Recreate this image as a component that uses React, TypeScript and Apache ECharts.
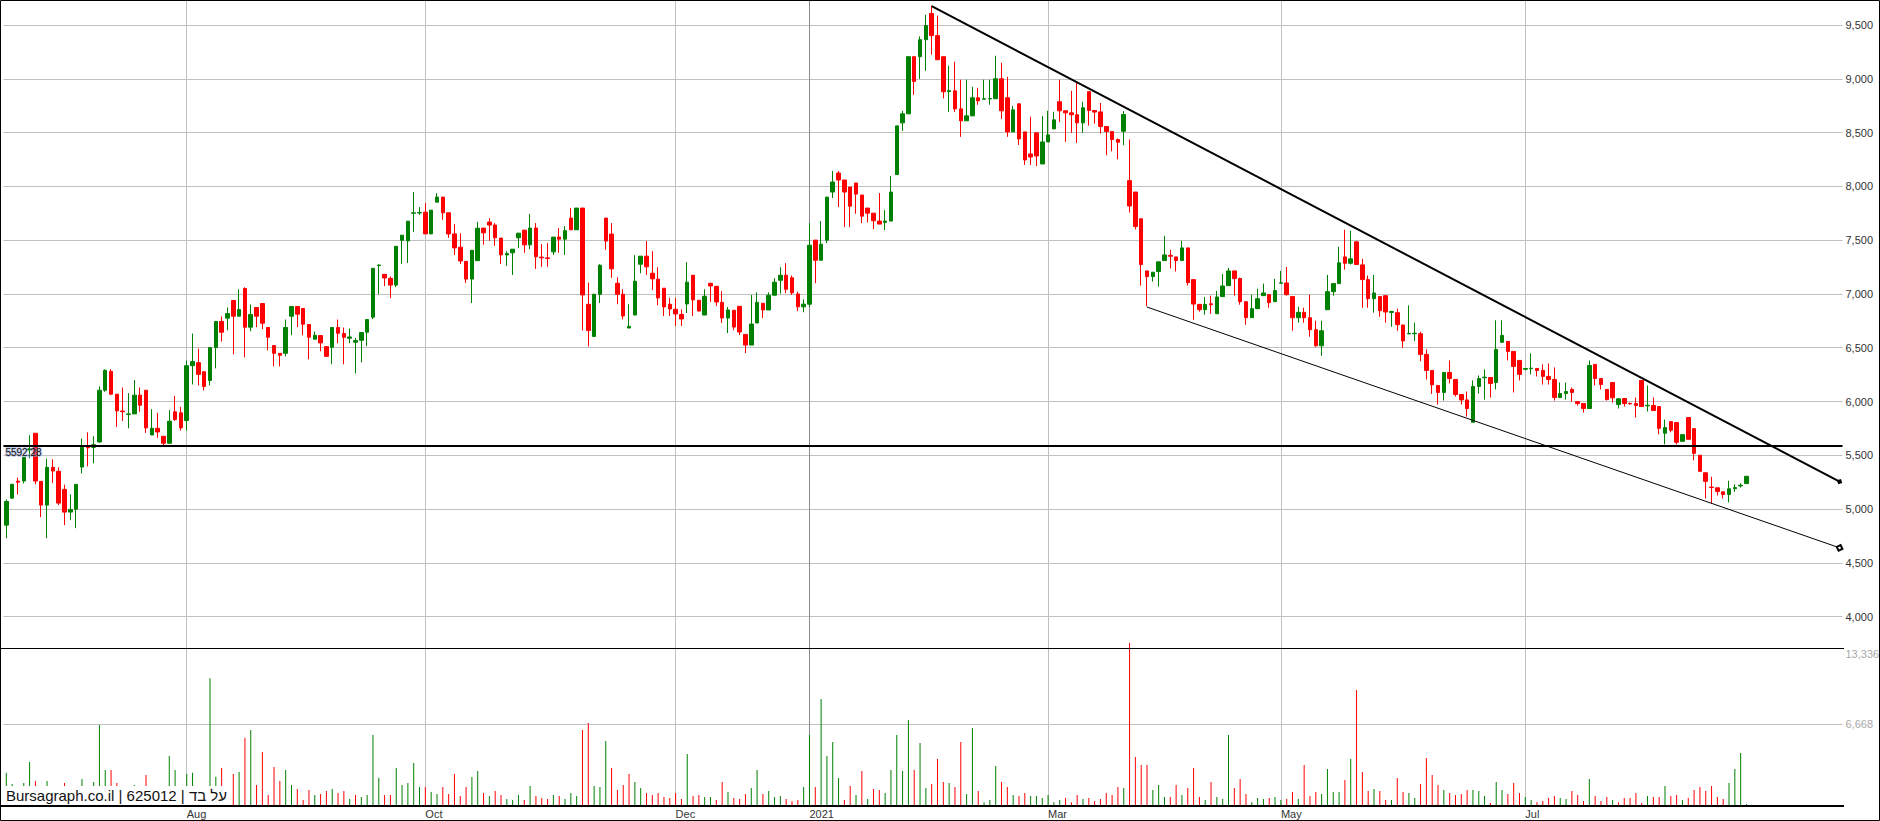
import { useEffect, useRef } from 'react';
import * as echarts from 'echarts';

// ---- price data (one entry per trading day, left to right) ----
const OPEN = [
  4851,5102,5260,5261,5550,5705,5258,5037,5388,5351,
  5183,4972,4999,5391,5578,5574,5624,6105,6280,6068,
  5912,5880,5885,6059,6105,5689,5751,5677,5612,5904,
  5895,5823,6333,6361,6277,6196,6501,6744,6775,6939,
  6793,7051,6691,6874,6911,6688,6520,6448,6448,6793,
  6883,6865,6716,6579,6613,6510,6504,6688,6632,6588,
  6551,6569,6644,6784,7262,7182,7145,7082,7499,7493,
  7750,7752,7760,7558,7853,7900,7754,7558,7434,7303,
  7138,7309,7612,7668,7640,7519,7363,7382,7522,7593,
  7456,7612,7342,7335,7391,7528,7509,7705,7596,7798,
  6904,6605,6997,7705,7556,7099,6997,6683,6804,7276,
  7351,7192,7137,7053,6904,6857,6810,6907,7174,6941,
  6804,7099,7071,6922,6776,6848,6885,6624,6525,6730,
  6913,6851,6988,7127,7174,7150,7000,6880,6905,7500,
  7313,7500,7947,8124,8059,7994,8031,7919,7798,7751,
  7677,7665,7677,8109,8590,8674,9205,9205,9363,9606,
  9401,9205,8880,8888,8720,8609,8655,8823,8810,8812,
  8814,9000,8823,8506,8767,8506,8301,8497,8208,8413,
  8534,8786,8702,8683,8665,8590,8880,8705,8692,8556,
  8509,8435,8512,8053,7947,7699,7214,7161,7208,7310,
  7358,7344,7310,7428,7133,6903,6854,6908,6816,6975,
  7077,7214,7143,6928,6779,6863,6984,6993,6928,7100,
  7102,6975,6779,6829,6779,6667,6518,6853,7021,7096,
  7344,7285,7484,7270,7133,6956,6975,6984,6828,6826,
  6711,6628,6630,6630,6438,6289,6149,6084,6270,6205,
  6065,6015,5807,6140,6221,6223,6177,6550,6559,6466,
  6382,6300,6305,6307,6289,6233,6205,6037,6074,6112,
  5999,5981,5935,6345,6214,6112,6177,5972,6028,5983,
  5981,6196,5960,5963,5953,5705,5813,5804,5630,5851,
  5748,5500,5338,5205,5198,5161,5136,5190,5215,5237,
];
const CLOSE = [
  5071,5230,5250,5481,5560,5261,5037,5388,5354,5056,
  4972,4997,5230,5574,5570,5599,6105,6290,6068,5913,
  5905,5885,6059,5966,5755,5751,5717,5612,5817,5833,
  5755,6333,6371,6252,6140,6501,6744,6644,6818,6793,
  6855,6691,6809,6793,6728,6597,6448,6430,6688,6883,
  6812,6719,6597,6616,6545,6420,6688,6635,6597,6600,
  6567,6641,6762,7238,7269,7148,7082,7443,7546,7676,
  7754,7757,7558,7779,7900,7754,7558,7428,7306,7138,
  7406,7611,7568,7640,7522,7363,7375,7416,7565,7456,
  7612,7345,7335,7330,7528,7509,7588,7596,7798,6991,
  6661,6997,7267,7491,7233,6997,6795,6699,7118,7351,
  7252,7140,6963,6879,6860,6814,6767,7109,6944,6841,
  6978,7074,6925,6776,6851,6692,6646,6525,6720,6922,
  6851,6988,7109,7174,7043,7010,6880,6905,7453,7313,
  7462,7900,8040,8059,7947,7816,7928,7723,7751,7680,
  7649,7677,7947,8562,8674,9205,8975,9363,9494,9401,
  9177,8879,8889,8720,8609,8655,8823,8795,8814,8817,
  9000,8702,8506,8711,8441,8245,8273,8282,8413,8478,
  8618,8702,8683,8665,8590,8730,8705,8690,8556,8509,
  8435,8410,8668,7817,7627,7273,7161,7202,7298,7363,
  7350,7310,7428,7105,6906,6854,6903,6900,6972,7074,
  7214,7143,6928,6779,6863,6956,7009,6919,7031,7103,
  6993,6779,6829,6779,6667,6518,6658,7021,7096,7289,
  7285,7326,7273,7133,6956,7009,6844,6832,6836,6714,
  6563,6633,6635,6438,6289,6155,6084,6270,6214,6065,
  6015,5935,6140,6214,6226,6168,6484,6615,6466,6326,
  6252,6307,6310,6289,6233,6205,6037,6074,6093,6084,
  5981,5935,6335,6214,6158,6018,6035,6025,5981,5978,
  5963,5953,5965,5916,5751,5758,5733,5621,5692,5649,
  5518,5351,5258,5200,5164,5136,5189,5200,5222,5305,
];
const LOW = [
  4730,5095,5136,5239,5472,5230,4925,4730,5242,5037,
  4851,4897,4823,5332,5397,5425,5618,6090,6060,5764,
  5820,5751,5885,5904,5708,5689,5661,5577,5612,5820,
  5730,5730,6159,6150,6103,6150,6308,6557,6663,6439,
  6793,6411,6653,6691,6672,6476,6327,6327,6420,6616,
  6691,6616,6392,6579,6467,6420,6346,6541,6346,6541,
  6262,6364,6514,6765,6999,7073,6961,7064,7278,7288,
  7577,7735,7558,7558,7853,7689,7521,7362,7278,7101,
  6915,7309,7457,7494,7447,7279,7261,7177,7426,7382,
  7416,7233,7252,7252,7363,7382,7363,7596,7596,6661,
  6512,6605,6916,7410,7149,6904,6764,6683,6804,7192,
  7177,7037,6894,6795,6795,6702,6702,6823,6795,6841,
  6804,6925,6888,6730,6636,6664,6618,6450,6525,6730,
  6776,6851,6988,7003,7006,6990,6840,6830,6880,7100,
  7313,7472,7891,7807,7621,7621,7745,7658,7664,7602,
  7649,7593,7677,8109,8515,8674,8851,8999,9074,9224,
  9177,8817,8692,8692,8460,8609,8655,8758,8810,8758,
  8814,8627,8460,8506,8385,8199,8199,8189,8208,8413,
  8534,8599,8413,8497,8404,8497,8565,8582,8491,8289,
  8326,8251,8382,7757,7599,7077,6885,7114,7068,7310,
  7236,7208,7310,7077,6760,6835,6807,6816,6816,6975,
  7077,6984,6900,6714,6779,6863,6984,6872,6928,7095,
  6984,6658,6733,6733,6602,6509,6425,6853,6984,7096,
  7226,7273,7273,6872,6872,6826,6788,6733,6695,6658,
  6500,6628,6562,6373,6205,6071,5972,6009,6168,6046,
  5972,5860,5807,6074,6018,6037,6112,6550,6382,6084,
  6196,6290,6252,6233,6158,6158,6009,6037,6018,5999,
  5962,5897,5935,6149,6112,6009,5990,5935,5953,5972,
  5851,5953,5907,5916,5696,5602,5714,5602,5630,5649,
  5453,5351,5099,5052,5127,5099,5062,5160,5200,5237,
];
const HIGH = [
  5090,5235,5292,5481,5686,5705,5258,5469,5463,5388,
  5227,5136,5230,5655,5714,5677,6140,6300,6300,6068,
  6130,6078,6199,6130,6105,5928,5894,5677,5919,6053,
  5951,6380,6632,6492,6277,6501,6744,6790,6874,6939,
  7042,7061,6902,6874,6911,6688,6520,6448,6762,6883,
  6883,6865,6716,6650,6613,6510,6688,6762,6688,6678,
  6591,6641,6762,7238,7272,7182,7163,7443,7546,7676,
  7947,7807,7844,7779,7937,7900,7754,7648,7564,7303,
  7406,7670,7612,7705,7658,7519,7397,7416,7565,7593,
  7742,7658,7463,7472,7528,7612,7630,7798,7798,7798,
  7106,6997,7276,7705,7658,7155,7043,6904,7360,7351,
  7491,7397,7248,7053,6963,6963,6857,7295,7174,6941,
  7043,7099,7071,7025,6879,6848,6885,6624,6990,7015,
  6913,7015,7146,7248,7286,7170,7020,6950,7658,7500,
  7677,7900,8143,8143,8059,7994,8031,7919,7798,7751,
  7938,7779,8096,8562,8702,9205,9205,9394,9596,9680,
  9587,9205,9121,9158,8991,8991,8925,8916,8991,8991,
  9214,9149,9018,8748,8767,8506,8646,8497,8655,8702,
  8693,8991,8702,8888,8972,8786,8880,8705,8776,8556,
  8509,8444,8699,8435,7947,7699,7214,7202,7298,7540,
  7410,7344,7493,7428,7133,6903,6972,6984,7028,7186,
  7242,7214,7152,6928,6993,7049,7096,6993,7140,7214,
  7251,6975,6881,6872,6993,6751,6751,7177,7096,7438,
  7596,7587,7493,7326,7171,7177,6975,6984,6844,6863,
  6711,6894,6733,6649,6484,6289,6149,6270,6382,6205,
  6065,6093,6196,6242,6298,6223,6755,6755,6559,6466,
  6382,6310,6447,6307,6345,6354,6317,6177,6177,6130,
  5999,5981,6382,6345,6214,6112,6177,6028,6028,5990,
  6037,6196,6149,6037,5953,5832,5813,5804,5692,5851,
  5748,5500,5338,5301,5198,5161,5264,5230,5240,5305,
];
const VOLUME = [
  2704,1776,600,1858,3578,2022,700,2022,500,500,
  1858,600,800,2186,800,1940,6610,2923,2923,1858,
  600,1612,1694,700,2514,500,600,600,4070,2923,
  900,2595,2705,1000,1000,10433,2377,3087,1200,2595,
  2759,5572,6200,1694,4398,874,3169,2022,2923,1694,
  1366,465,1284,874,956,1202,1366,1038,1202,547,
  874,711,874,5790,2295,874,874,3087,1694,1858,
  3497,1530,1530,1120,956,1530,956,2595,793,1530,
  2350,2841,1038,793,1202,874,547,465,874,465,
  1612,793,629,547,874,793,547,1038,793,6200,
  6774,1612,1530,5299,3087,1284,1694,2595,1940,1448,
  1038,874,1038,711,629,1038,547,4234,793,874,
  711,711,465,1940,1120,629,547,956,1448,2923,
  956,1202,711,793,547,383,465,1530,5790,1530,
  8740,4070,5217,2267,465,1612,874,2841,547,1366,
  1284,1038,2923,5790,2841,7020,2923,5135,1448,1776,
  3824,1940,1858,1530,5217,956,6364,1202,274,465,
  3251,1940,1530,874,793,1038,793,793,629,874,
  274,465,629,274,874,547,629,383,547,1038,
  874,1530,1448,13336,3988,3333,3333,1284,1694,711,
  711,1694,874,1448,3087,711,465,1940,711,547,
  5790,1448,2186,956,274,629,547,629,711,465,
  547,1120,547,3333,793,1120,956,3005,1120,1120,
  2104,3824,9477,2759,1202,1366,1202,465,465,2267,
  1120,1038,629,1776,3906,2514,1694,1284,1038,874,
  956,1284,1284,1202,793,219,1940,1284,956,1858,
  1038,711,465,274,383,629,793,629,547,1202,
  874,383,2186,793,383,711,465,274,629,629,
  1038,219,793,711,711,1612,793,874,465,629,
  1284,1530,1202,1612,711,547,1858,3005,4316,137,
];

// ---- axis / annotation data ----
const SLOT_COUNT = 316; // trading-day slots on the time axis (incl. empty future space)
const MONTH_INDEX = [31, 72, 115, 138, 179, 219, 261];
const MONTH_LABEL = ['Aug', 'Oct', 'Dec', '2021', 'Mar', 'May', 'Jul'];
const RESISTANCE_FROM = [159, 9675];
const RESISTANCE_TO = [315, 5255];
const SUPPORT_FROM = [196, 6878];
const SUPPORT_TO = [315, 4640];
const LEVEL = 5592.28;
const VOLUME_MAX = 13336;
const PRICE_MIN = 3709;
const PRICE_MAX = 9732;

const GREEN = '#008000';
const RED = '#ff0000';
const FONT = '"Liberation Sans", Arial, Helvetica, sans-serif';
const GRID_LEFT = 3.4;
const GRID_WIDTH = 1839.1;

const CATEGORIES = Array.from({ length: SLOT_COUNT }, (_, i) => String(i));

function buildOption() {
  const candles = OPEN.map((o, i) => [o, CLOSE[i], LOW[i], HIGH[i]]);
  const volumeData = VOLUME.map((v, i) => ({
    value: v,
    itemStyle: { color: i === 0 || CLOSE[i] >= CLOSE[i - 1] ? GREEN : RED },
  }));
  const monthLines = MONTH_INDEX.map((idx, k) => ({
    xAxis: idx,
    lineStyle: {
      color: MONTH_LABEL[k] === '2021' ? '#8a8a8a' : '#c0c0c0',
      width: 1,
      type: 'solid',
    },
  }));
  const gridMarkLine = {
    silent: true,
    z: 1,
    symbol: ['none', 'none'],
    label: { show: false },
    animation: false,
    data: monthLines,
  };

  return {
    animation: false,
    backgroundColor: '#ffffff',
    textStyle: { fontFamily: FONT },
    grid: [
      { left: GRID_LEFT, width: GRID_WIDTH, top: 0, height: 648, containLabel: false, outerBoundsMode: 'none' },
      { left: GRID_LEFT, width: GRID_WIDTH, top: 642.9, height: 162.8, containLabel: false, outerBoundsMode: 'none' },
    ],
    xAxis: [
      {
        type: 'category',
        gridIndex: 0,
        data: CATEGORIES,
        boundaryGap: true,
        axisLine: { show: false },
        axisTick: { show: false },
        axisLabel: { show: false },
        splitLine: { show: false },
      },
      {
        type: 'category',
        gridIndex: 1,
        data: CATEGORIES,
        boundaryGap: true,
        axisLine: { show: false },
        axisTick: { show: false },
        splitLine: { show: false },
        axisLabel: {
          show: true,
          interval: (index: number) => MONTH_INDEX.includes(index),
          formatter: (_v: string, index: number) => {
            const k = MONTH_INDEX.indexOf(index);
            return k >= 0 ? MONTH_LABEL[k] : '';
          },
          align: 'left',
          margin: 3,
          fontSize: 11,
          color: '#333333',
        },
      },
    ],
    yAxis: [
      {
        type: 'value',
        gridIndex: 0,
        position: 'right',
        min: PRICE_MIN,
        max: PRICE_MAX,
        minInterval: 500,
        maxInterval: 500,
        splitNumber: 12,
        axisLine: { show: false },
        axisTick: { show: false },
        axisLabel: {
          margin: 3,
          fontSize: 11,
          color: '#333333',
          showMinLabel: false,
          showMaxLabel: false,
          formatter: (v: number) => v.toLocaleString('en-US'),
        },
        splitLine: {
          show: true,
          showMinLine: false,
          showMaxLine: false,
          lineStyle: { color: '#c0c0c0', width: 1, type: 'solid' },
        },
      },
      {
        type: 'value',
        gridIndex: 1,
        position: 'right',
        min: 0,
        max: VOLUME_MAX,
        interval: VOLUME_MAX / 2,
        axisLine: { show: false },
        axisTick: { show: false },
        axisLabel: {
          margin: 3,
          fontSize: 11,
          color: '#a8a8a8',
          showMinLabel: false,
          formatter: (v: number) =>
            v === VOLUME_MAX ? '{top|' + v.toLocaleString('en-US') + '}' : v === 0 ? '' : v.toLocaleString('en-US'),
          rich: { top: { padding: [22, 0, 0, 0], fontSize: 11, color: '#a8a8a8' } },
        },
        splitLine: {
          show: true,
          showMinLine: false,
          showMaxLine: false,
          lineStyle: { color: '#c0c0c0', width: 1, type: 'solid' },
        },
      },
    ],
    series: [
      {
        type: 'line',
        xAxisIndex: 0,
        yAxisIndex: 0,
        data: [],
        silent: true,
        z: 1,
        markLine: gridMarkLine,
      },
      {
        type: 'candlestick',
        xAxisIndex: 0,
        yAxisIndex: 0,
        data: candles,
        barWidth: 4,
        z: 3,
        silent: true,
        itemStyle: {
          color: GREEN,
          color0: RED,
          borderColor: GREEN,
          borderColor0: RED,
          borderColorDoji: GREEN,
          borderWidth: 1,
        },
        markLine: {
          silent: true,
          symbol: ['none', 'none'],
          animation: false,
          label: { show: false },
          data: [
            [
              { coord: RESISTANCE_FROM, lineStyle: { color: '#000', width: 2, type: 'solid' } },
              { coord: RESISTANCE_TO, symbol: 'diamond', symbolSize: 6 },
            ],
            [
              { coord: SUPPORT_FROM, lineStyle: { color: '#000', width: 1, type: 'solid' } },
              { coord: SUPPORT_TO, symbol: 'emptyDiamond', symbolSize: 6 },
            ],
            {
              yAxis: LEVEL,
              lineStyle: { color: '#000', width: 2, type: 'solid' },
              label: {
                show: true,
                position: 'insideStartBottom',
                formatter: String(LEVEL),
                color: '#111',
                fontSize: 10,
                distance: 2,
                textBorderColor: 'rgba(150,170,220,0.55)',
                textBorderWidth: 2,
              },
            },
          ],
        },
      },
      {
        type: 'line',
        xAxisIndex: 1,
        yAxisIndex: 1,
        data: [],
        silent: true,
        z: 1,
        markLine: gridMarkLine,
      },
      {
        type: 'bar',
        xAxisIndex: 1,
        yAxisIndex: 1,
        data: volumeData,
        barWidth: 1,
        z: 3,
        silent: true,
      },
    ],
    graphic: [
      {
        type: 'line',
        silent: true,
        z: 50,
        shape: { x1: 0, y1: 648.5, x2: 1844, y2: 648.5 },
        style: { stroke: '#000', lineWidth: 1 },
      },
      {
        type: 'rect',
        silent: true,
        z: 40,
        shape: { x: 1, y: 786, width: 231, height: 19 },
        style: { fill: '#ffffff' },
      },
      {
        type: 'text',
        silent: true,
        z: 41,
        x: 6,
        y: 795.5,
        style: {
          text: 'Bursagraph.co.il | 625012 | על בד',
          font: '15px ' + FONT,
          fill: '#111111',
          verticalAlign: 'middle',
        },
      },
      {
        type: 'line',
        silent: true,
        z: 50,
        shape: { x1: 0, y1: 806, x2: 1844, y2: 806 },
        style: { stroke: '#000', lineWidth: 2 },
      },
      {
        type: 'rect',
        silent: true,
        z: 60,
        shape: { x: 0.5, y: 0.5, width: 1879, height: 820 },
        style: { fill: 'none', stroke: '#000', lineWidth: 1 },
      },
    ],
  };
}

export default function App() {
  const ref = useRef<HTMLDivElement>(null);
  useEffect(() => {
    document.body.style.margin = '0';
    if (!ref.current) return;
    const chart = echarts.init(ref.current, undefined, { renderer: 'svg' });
    chart.setOption(buildOption() as any);
    return () => chart.dispose();
  }, []);
  return (
    <div
      ref={ref}
      style={{ position: 'absolute', left: 0, top: 0, width: 1880, height: 821, background: '#fff' }}
    />
  );
}
